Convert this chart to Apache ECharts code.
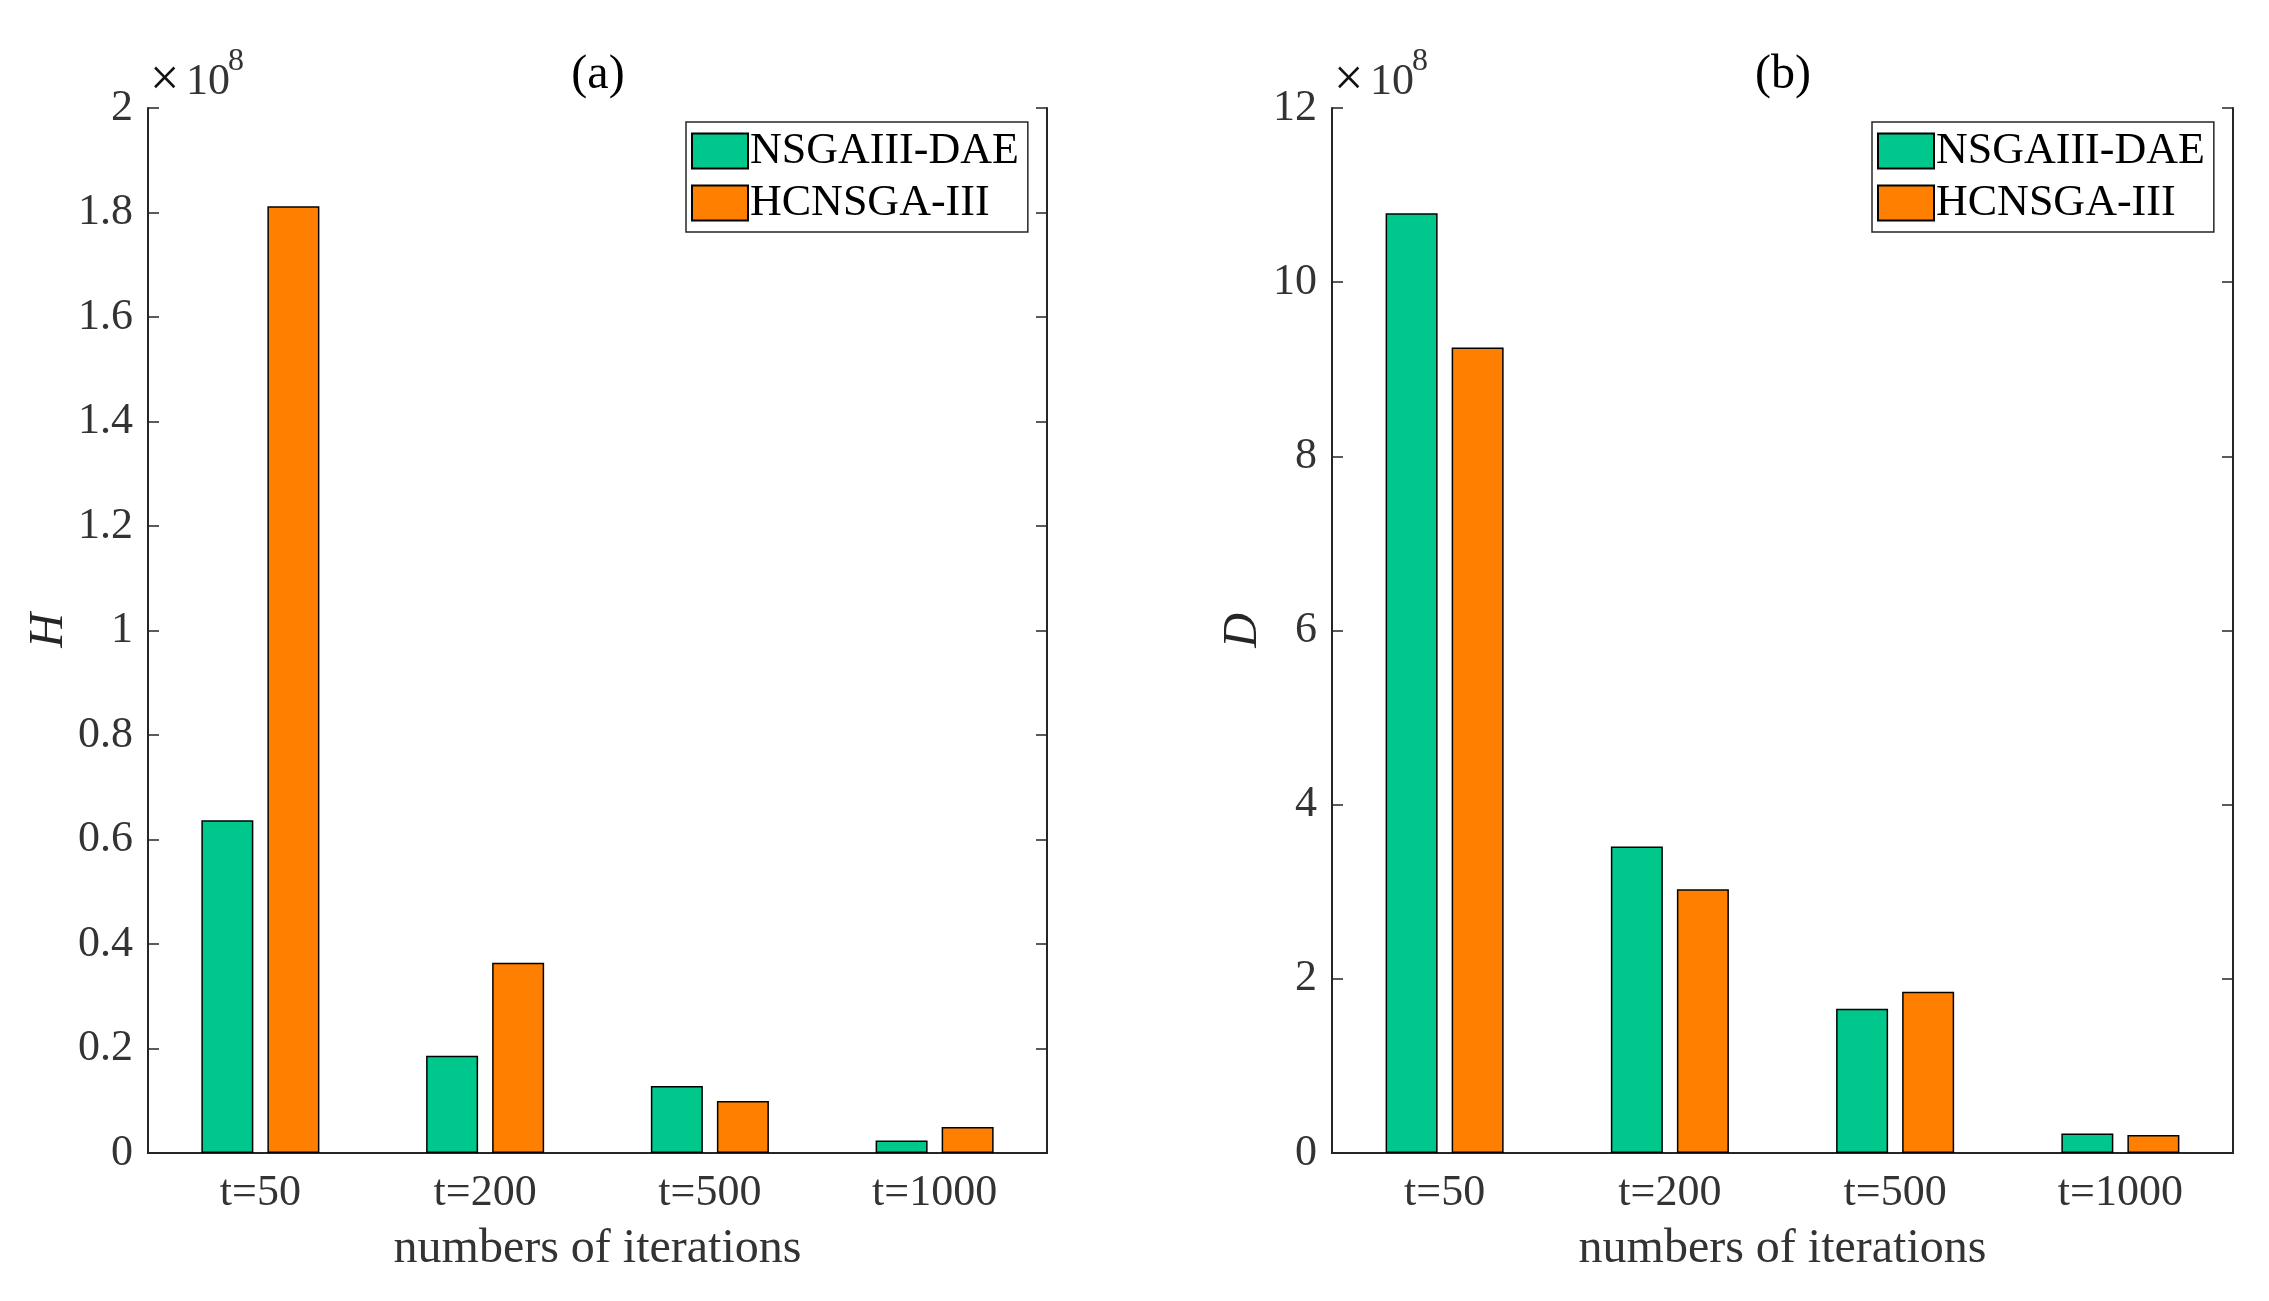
<!DOCTYPE html>
<html>
<head>
<meta charset="utf-8">
<title>H and D vs iterations</title>
<script src="https://cdn.jsdelivr.net/npm/echarts@6/dist/echarts.min.js"></script>
<style>
  html, body { margin: 0; padding: 0; background: #fff; }
  #chart { width: 2269px; height: 1301px; }
</style>
</head>
<body>
<div id="chart"></div>
<script>
// data (units of 1e8)
var categories = ['t=50', 't=200', 't=500', 't=1000'];
var seriesNames = ['NSGAIII-DAE', 'HCNSGA-III'];
var hDae = [0.637, 0.186, 0.128, 0.024];
var hHc = [1.812, 0.364, 0.0995, 0.0496];
var dDae = [10.79, 3.52, 1.657, 0.225];
var dHc = [9.25, 3.03, 1.853, 0.207];

var FONT = '"Liberation Serif", "Times New Roman", serif';
var AX = '#262626';
var GREEN = '#00C78C';
var ORANGE = '#FF8000';

var chart = echarts.init(document.getElementById('chart'));

function mainX(grid) {
    return {
        gridIndex: grid, type: 'category', data: categories, position: 'bottom',
        axisLine: { lineStyle: { color: AX, width: 2 } },
        axisTick: { inside: true, alignWithLabel: true, length: 11, lineStyle: { color: AX, width: 1.2 } },
        axisLabel: { margin: 18, fontSize: 44, fontFamily: FONT, color: '#333' },
        name: 'numbers of iterations', nameLocation: 'middle', nameGap: 72,
        nameTextStyle: { fontSize: 48, fontFamily: FONT, color: '#333' }
    };
}
function topX(grid) {
    return {
        gridIndex: grid, type: 'category', data: categories, position: 'top',
        axisLine: { lineStyle: { color: AX, width: 2 } },
        axisTick: { inside: true, alignWithLabel: true, length: 11, lineStyle: { color: AX, width: 1.2 } },
        axisLabel: { show: false }
    };
}
function mainY(grid, max, step, name, gap) {
    return {
        gridIndex: grid, type: 'value', min: 0, max: max, interval: step, position: 'left',
        axisLine: { show: true, lineStyle: { color: AX, width: 2 } },
        axisTick: { show: true, inside: true, length: 11, lineStyle: { color: AX, width: 1.5 } },
        splitLine: { show: false },
        axisLabel: { margin: 15, fontSize: 44, fontFamily: FONT, color: '#333' },
        name: name, nameLocation: 'middle', nameRotate: 90, nameGap: gap,
        nameTextStyle: { fontSize: 48, fontFamily: FONT, fontStyle: 'italic', color: '#262626' }
    };
}
function rightY(grid, max, step) {
    return {
        gridIndex: grid, type: 'value', min: 0, max: max, interval: step, position: 'right',
        axisLine: { show: true, lineStyle: { color: AX, width: 2 } },
        axisTick: { show: true, inside: true, length: 11, lineStyle: { color: AX, width: 1.5 } },
        splitLine: { show: false },
        axisLabel: { show: false }
    };
}
function bars(name, data, color, grid) {
    return {
        name: name, type: 'bar', data: data,
        xAxisIndex: grid * 2, yAxisIndex: grid * 2,
        barWidth: 52, barGap: '27%',
        itemStyle: { color: color, borderColor: '#000', borderWidth: 1.5 }
    };
}
function legendAt(left) {
    return {
        orient: 'vertical', left: left, top: 122,
        data: seriesNames, icon: 'rect',
        itemWidth: 56, itemHeight: 35, itemGap: 8,
        padding: [7, 9, 7, 5],
        borderColor: AX, borderWidth: 1.5, backgroundColor: '#fff',
        textStyle: { fontSize: 44, fontFamily: FONT, color: '#000', padding: [0, 0, 0, -3] },
        itemStyle: { borderColor: '#000', borderWidth: 2 }
    };
}
function txt(s, x, y, size, color, align) {
    return {
        type: 'text', x: x, y: y, silent: true,
        style: {
            text: s, fontSize: size, fontFamily: FONT, fill: color,
            align: align, textAlign: align, verticalAlign: 'middle', textVerticalAlign: 'middle'
        }
    };
}

chart.setOption({
    backgroundColor: '#fff',
    animation: false,
    grid: [
        { left: 148, top: 108, width: 899, height: 1045 },
        { left: 1332, top: 108, width: 901, height: 1045 }
    ],
    xAxis: [mainX(0), topX(0), mainX(1), topX(1)],
    yAxis: [mainY(0, 2, 0.2, 'H', 75), rightY(0, 2, 0.2), mainY(1, 12, 2, 'D', 65), rightY(1, 12, 2)],
    legend: [legendAt(686), legendAt(1872)],
    series: [
        bars(seriesNames[0], hDae, GREEN, 0),
        bars(seriesNames[1], hHc, ORANGE, 0),
        bars(seriesNames[0], dDae, GREEN, 1),
        bars(seriesNames[1], dHc, ORANGE, 1)
    ],
    graphic: [
        txt('(a)', 598, 75, 48, '#000', 'center'),
        txt('(b)', 1783, 75, 48, '#000', 'center'),
        txt('\u00d7', 150, 81, 52, '#111', 'left'),
        txt('10', 186, 82, 44, '#333', 'left'),
        txt('8', 228, 62, 32, '#333', 'left'),
        txt('\u00d7', 1334, 81, 52, '#111', 'left'),
        txt('10', 1370, 82, 44, '#333', 'left'),
        txt('8', 1412, 62, 32, '#333', 'left')
    ]
});
</script>
</body>
</html>
